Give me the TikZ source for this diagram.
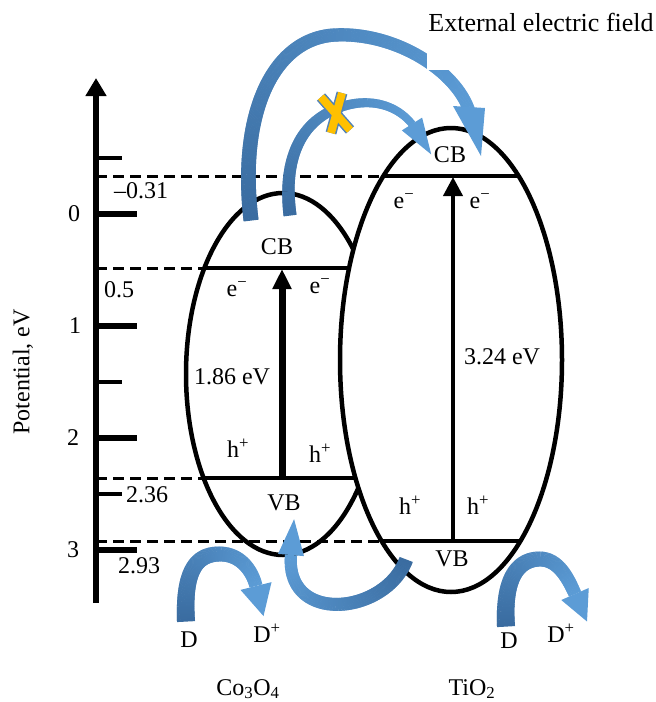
\documentclass[tikz,border=0pt]{standalone}
\usepackage{fontspec}
\setmainfont{Liberation Serif}
\usetikzlibrary{arrows.meta,decorations.markings,calc}
\definecolor{flowD}{RGB}{58,108,160}
\definecolor{flowL}{RGB}{92,156,214}
\definecolor{xyellow}{RGB}{255,192,0}
\definecolor{xedge}{RGB}{80,130,185}
% shaft with colour gradient: #1 start half-width, #2 end half-width, #3 path
\newcommand\flowshaft[3]{%
  \path[decoration={markings,
      mark=between positions 0 and 1 step 0.7pt with {%
        \pgfmathsetmacro\flowfrac{\pgfkeysvalueof{/pgf/decoration/mark info/distance from start}/\pgfdecoratedpathlength}%
        \pgfmathtruncatemacro\flowpct{100*\flowfrac}%
        \pgfmathsetmacro\flowhw{#1+(#2-#1)*\flowfrac}%
        \fill[flowL!\flowpct!flowD] (-0.6pt,-\flowhw pt) rectangle (0.6pt,\flowhw pt);%
      }}, decorate] #3;%
}
% #1 start half-width, #2 end half-width, #3 head half-width, #4 head length,
% #5 path, #6 last control point, #7 end point (head base)
\newcommand\flowarrow[7]{%
  \flowshaft{#1}{#2}{#5}%
  \fill[flowL] ($(#7)!#3pt!90:(#6)$) -- ($(#7)!-#4pt!(#6)$) -- ($(#7)!#3pt!-90:(#6)$) -- cycle;%
}
\begin{document}
\begin{tikzpicture}[x=1pt,y=-1pt,
  lbl/.style={font=\fontsize{24}{28}\selectfont, inner sep=0pt},
  ellipseline/.style={line width=4.5pt},
  bandline/.style={line width=3.5pt},
  levelline/.style={line width=3pt, dash pattern=on 11pt off 6pt},
  majortick/.style={line width=6pt},
  minortick/.style={line width=4pt}]
\useasboundingbox (0,0) rectangle (656,702);

% axis
\coordinate (axb) at (96,603);
\coordinate (axt) at (96,78);
\draw[line width=6pt, -{Triangle[width=20pt,length=18pt]}] (axb) -- (axt);
\foreach \y in {214,326,438,550} \draw[majortick] (96,\y) -- (137,\y);
\foreach \y in {158,382,494} \draw[minortick] (96,\y) -- (122,\y);
\node[lbl] (ax0) at (74,214) {0};
\node[lbl] (ax1) at (75,326) {1};
\node[lbl] (ax2) at (73,438) {2};
\node[lbl] (ax3) at (73,550) {3};
\node[lbl, rotate=90] (ylab) at (23,372) {Potential, eV};

% Co3O4
\draw[ellipseline] (283,374) ellipse [x radius=97pt, y radius=181pt];
\coordinate (cbCl) at (204,268); \coordinate (cbCr) at (362,268);
\coordinate (vbCl) at (204,478); \coordinate (vbCr) at (362,478);
\draw[bandline] (cbCl) -- (cbCr);
\draw[bandline] (vbCl) -- (vbCr);
\coordinate (gCb) at (282,478); \coordinate (gCt) at (282,269);
\draw[line width=7pt, -{Triangle[width=18pt,length=20pt]}] (gCb) -- (gCt);

% TiO2
\draw[ellipseline, fill=white] (451,360) ellipse [x radius=111pt, y radius=232pt];
\coordinate (cbTl) at (383,176); \coordinate (cbTr) at (519,176);
\coordinate (vbTl) at (381,541); \coordinate (vbTr) at (521,541);
\draw[bandline] (cbTl) -- (cbTr);
\draw[bandline] (vbTl) -- (vbTr);
\coordinate (gTb) at (453,541); \coordinate (gTt) at (453,177);
\draw[line width=4pt, -{Triangle[width=19pt,length=19pt]}] (gTb) -- (gTt);

% dashed levels
\draw[levelline] (96,176) -- (cbTl);
\draw[levelline] (96,268) -- (cbCl);
\draw[levelline] (96,478) -- (vbCl);
\draw[levelline] (96,541) -- (vbTl);
\node[lbl] (lvA) at (141,191) {–0.31};
\node[lbl] (lvB) at (119,290) {0.5};
\node[lbl] (lvC) at (147,495) {2.36};
\node[lbl] (lvD) at (139,566) {2.93};

% labels Co3O4
\node[lbl] (cbC) at (277,247) {CB};
\node[lbl] (eC1) at (237,289) {e\textsuperscript{−}};
\node[lbl] (eC2) at (320,286) {e\textsuperscript{−}};
\node[lbl] (gapC) at (232,377) {1.86 eV};
\node[lbl] (hC1) at (238,448) {h\textsuperscript{+}};
\node[lbl] (hC2) at (320,453) {h\textsuperscript{+}};
\node[lbl] (vbC) at (284,503) {VB};
% labels TiO2
\node[lbl] (eT1) at (404,201) {e\textsuperscript{−}};
\node[lbl] (eT2) at (480,201) {e\textsuperscript{−}};
\node[lbl] (gapT) at (502,357) {3.24 eV};
\node[lbl] (hT1) at (410,505) {h\textsuperscript{+}};
\node[lbl] (hT2) at (478,505) {h\textsuperscript{+}};
\node[lbl] (vbT) at (452,559) {VB};
% bottom labels
\node[lbl] (dC) at (189,640) {D};
\node[lbl] (dpC) at (267,633) {D\textsuperscript{+}};
\node[lbl] (dT) at (509,641) {D};
\node[lbl] (dpT) at (561,633) {D\textsuperscript{+}};
\node[lbl] (nameC) at (248,689) {Co\textsubscript{3}O\textsubscript{4}};
\node[lbl] (nameT) at (472,689) {TiO\textsubscript{2}};

% blue flow arrows
\flowshaft{7.5}{6}{(251,220) .. controls (238,110) and (275,38) .. (335,35) .. controls (395,32) and (455,70) .. (469,110)}
\fill[flowL] (453,106) -- (485,108) -- (481,156) -- cycle;
\flowarrow{6.5}{3.8}{12}{36}{(290,215) .. controls (283,160) and (300,125) .. (333,110) .. controls (365,96) and (395,103) .. (412,124)}{400,105}{412,124}
\flowarrow{9}{6.5}{16}{31}{(186,621) .. controls (183,565) and (200,554) .. (220,554) .. controls (240,554) and (252,570) .. (256,586)}{252,570}{256,586}
\flowarrow{7}{6}{13}{36}{(406,560) .. controls (385,615) and (285,625) .. (291,555)}{285,625}{291,555}
\flowarrow{9}{6.5}{15}{30}{(506,626) .. controls (503,575) and (520,559) .. (540,559) .. controls (558,559) and (568,578) .. (575,594)}{568,578}{575,594}

% blocked transfer mark
\draw[xedge, line width=11pt] (321,97) -- (350,130) (342,93) -- (331,133);
\draw[xyellow, line width=8pt] (321,97) -- (350,130) (342,93) -- (331,133);

% text boxes (white backgrounds)
\fill[white] (432,143) rectangle (470,170);
\node[lbl] (cbT) at (450,155) {CB};
\fill[white] (427,0) rectangle (656,70);
\node[font=\fontsize{26}{30}\selectfont, inner sep=0pt] (field) at (541,22) {External electric field};
\end{tikzpicture}
\end{document}
